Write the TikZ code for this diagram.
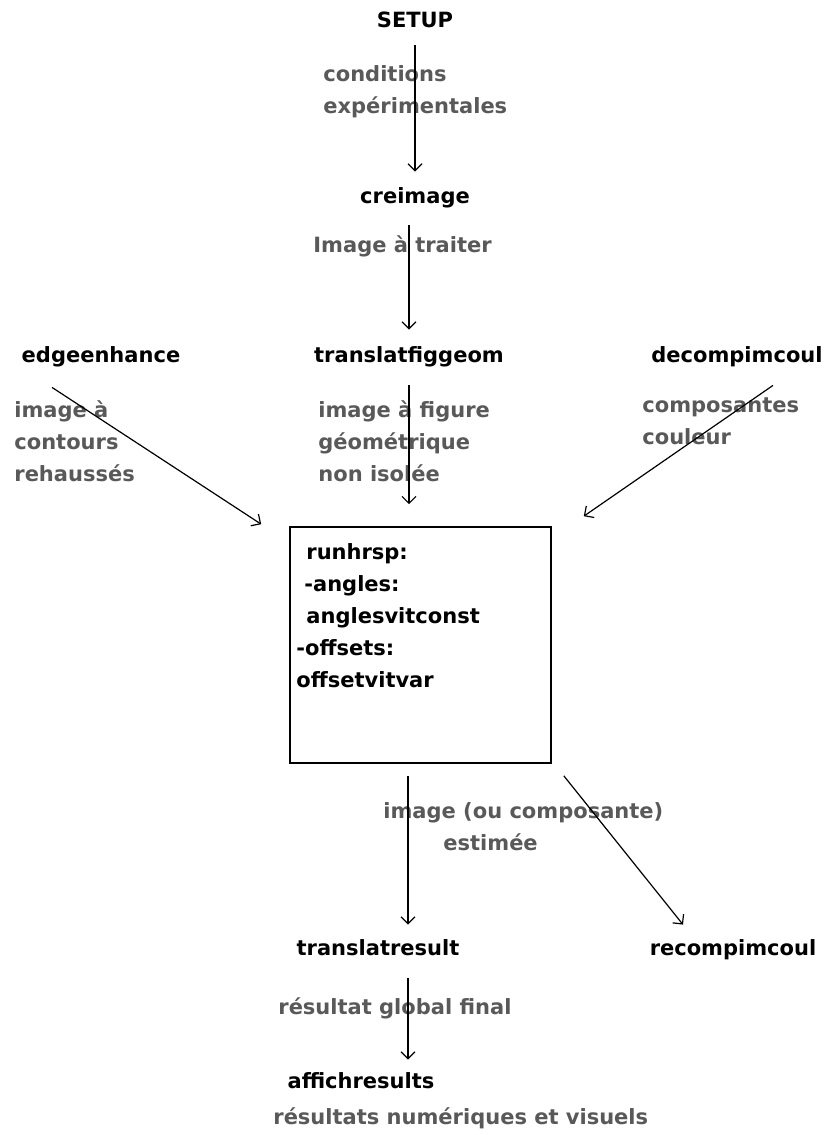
\documentclass[tikz,border=0pt]{standalone}
\usepackage{fontspec}
\setmainfont{DejaVu Sans}
\usetikzlibrary{arrows.meta}

\begin{document}
\begin{tikzpicture}[x=0.5pt, y=-0.5pt,
    prog/.style={font=\bfseries\fontsize{10.5}{16}\selectfont, inner sep=0pt, text height=8pt, text depth=2.5pt},
    note/.style={font=\bfseries\fontsize{10.5}{16}\selectfont, text=black!65, align=left, anchor=west, inner sep=0pt},
    procbox/.style={draw, line width=0.8pt, minimum width=130.5pt, minimum height=118pt, inner sep=0pt},
    arr/.style={-{Straight Barb[length=3.5pt, width=7pt]}, line width=0.6pt}
]
\fill[white] (0,0) rectangle (832,1135);
\useasboundingbox (0,0) rectangle (832,1135);

% programmes
\node[prog] (setup) at (415,22) {SETUP};
\node[prog] (creimage) at (415,198) {creimage};
\node[prog] (edge) at (101,357) {edgeenhance};
\node[prog] (transl) at (409,357) {translatfiggeom};
\node[prog] (decomp) at (737,357) {decompimcoul};
\node[procbox] (run) at (420.5,645) {};
\node[prog, text height=, text depth=, align=left, anchor=north west] (runtext) at (296,543)
    {\hspace*{5pt}runhrsp:\\ \hspace*{4pt}-angles:\\ \hspace*{5pt}anglesvitconst\\ -offsets:\\ offsetvitvar};
\node[prog] (tres) at (378,950) {translatresult};
\node[prog] (recomp) at (733,950) {recompimcoul};
\node[prog] (affich) at (361,1083) {affichresults};

% donnees echangees
\node[note] (cond) at (323,92) {conditions\\expérimentales};
\node[note] (atraiter) at (313,246) {Image à traiter};
\node[note] (contours) at (14,441) {image à\\contours\\rehaussés};
\node[note] (figure) at (318,441) {image à figure\\géométrique\\non isolée};
\node[note] (coul) at (642,421) {composantes\\couleur};
\node[note] (estim) at (383,827) {image (ou composante)\\\hspace*{30pt}estimée};
\node[note] (global) at (278,1008) {résultat global final};
\node[note] (numer) at (273,1118) {résultats numériques et visuels};

% fleches
\draw[arr, shorten <=6.25pt, shorten >=7.75pt] (setup.south) -- (setup.south |- creimage.north);
\draw[arr, shorten <=8.25pt, shorten >=8.25pt] (creimage.south -| transl.north) -- (transl.north);
\draw[arr, shorten <=8.75pt, shorten >=11pt] (transl.south) -- (transl.south |- run.north);
\draw[arr] ([xshift=-24.5pt, yshift=-9.75pt]edge.south) -- ([xshift=-14pt, yshift=1pt]run.north west);
\draw[arr] ([xshift=18pt, yshift=-8.75pt]decomp.south) -- ([xshift=16pt, yshift=5pt]run.north east);
\draw[arr, shorten <=6pt, shorten >=7.25pt] ([xshift=-6.25pt]run.south) -- ([xshift=-6.25pt]run.south |- tres.north);
\draw[arr] ([xshift=6pt, yshift=-6pt]run.south east) -- ([xshift=-25pt, yshift=7.25pt]recomp.north);
\draw[arr, shorten <=8.75pt, shorten >=6.25pt] ([xshift=15pt]tres.south) -- ([xshift=15pt]tres.south |- affich.north);
\end{tikzpicture}
\end{document}
